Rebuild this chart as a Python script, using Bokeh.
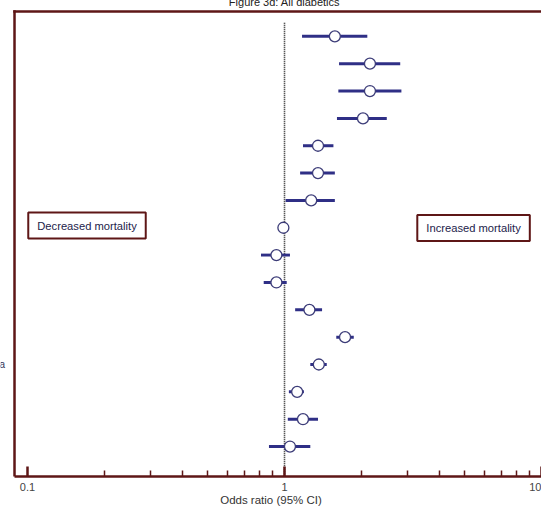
from bokeh.plotting import figure
from bokeh.models import Range1d, FixedTicker, Label, ColumnDataSource
from bokeh.embed import file_html
from bokeh.resources import INLINE

# ---------------- data ----------------
title_text = "Figure 3d: All diabetics"
x_axis_label = "Odds ratio (95% CI)"
left_label_fragment = "a"
decreased_text = "Decreased mortality"
increased_text = "Increased mortality"

rows = [1, 2, 3, 4, 5, 6, 7, 8, 9, 10, 11, 12, 13, 14, 15, 16]
odds_ratio = [1.57, 2.15, 2.15, 2.02, 1.35, 1.35, 1.27, 0.99, 0.93, 0.93, 1.25, 1.72, 1.36, 1.12, 1.18, 1.05]
ci_low = [1.17, 1.63, 1.62, 1.60, 1.18, 1.15, 1.01, 0.96, 0.81, 0.83, 1.10, 1.59, 1.26, 1.04, 1.03, 0.87]
ci_high = [2.10, 2.82, 2.85, 2.50, 1.55, 1.57, 1.57, 1.03, 1.05, 1.02, 1.40, 1.86, 1.46, 1.19, 1.35, 1.26]

major_ticks = [0.1, 1, 10]
minor_ticks = [0.2, 0.3, 0.4, 0.5, 0.6, 0.7, 0.8, 0.9, 2, 3, 4, 5, 6, 7, 8, 9]
tick_labels = {0.1: "0.1", 1: "1", 10: "10"}
null_value = 1.0

# ---------------- layout / style ----------------
FONT = "Liberation Sans"
MAROON = "#5e1616"
NAVY = "#2f2f86"

src = ColumnDataSource(dict(row=rows, odds=odds_ratio, lo=ci_low, hi=ci_high))

box_left = 0.089          # left edge of the drawn frame (OR units)
box_right = 10.0
view_left = 0.0785        # visible window starts a little left of the frame
y_bottom = len(rows) + 1.095
box_top = 0.09            # top edge of the drawn frame (row units)
view_top = -0.53

p = figure(width=541, height=514, x_axis_type="log", y_axis_location=None,
           x_range=Range1d(view_left, box_right), y_range=Range1d(y_bottom, view_top),
           output_backend="svg", toolbar_location=None,
           min_border_left=0, min_border_right=0, min_border_top=0, min_border_bottom=31)
p.styles = {"margin-top": "-6px"}
p.outline_line_color = None
p.xgrid.grid_line_color = None
p.ygrid.grid_line_color = None
p.background_fill_color = "white"
p.border_fill_color = "white"

# x axis
xa = p.xaxis[0]
xa.bounds = (box_left, box_right)
xa.ticker = FixedTicker(ticks=major_ticks, minor_ticks=minor_ticks)
xa.major_label_overrides = tick_labels
xa.axis_label = x_axis_label
xa.axis_label_text_font = FONT
xa.axis_label_text_font_size = "11.5px"
xa.axis_label_text_font_style = "normal"
xa.axis_label_text_color = "#333333"
xa.axis_label_standoff = 0
xa.major_label_text_font = FONT
xa.major_label_text_font_size = "11px"
xa.major_label_text_color = "#444444"
xa.major_label_standoff = 6
xa.axis_line_color = MAROON
xa.axis_line_width = 2.5
xa.major_tick_line_color = MAROON
xa.major_tick_line_width = 2.5
xa.major_tick_in = 10
xa.major_tick_out = 0
xa.minor_tick_line_color = MAROON
xa.minor_tick_line_width = 1.5
xa.minor_tick_in = 6
xa.minor_tick_out = 0

# left and top frame lines
p.segment(x0=[box_left, box_left], y0=[box_top, box_top], x1=[box_left, box_right * 2],
          y1=[y_bottom, box_top], line_color=MAROON, line_width=2.5, line_cap="square")

# reference line at OR = 1
p.segment(x0=[null_value], y0=[0.5], x1=[null_value], y1=[y_bottom],
          line_color="#222222", line_width=1.6, line_dash="1 1")

# confidence intervals and points
p.segment(x0="lo", y0="row", x1="hi", y1="row", source=src,
          line_color=NAVY, line_width=3)
p.scatter(x="odds", y="row", source=src, size=11, marker="circle",
          fill_color="white", line_color="#3c3c78", line_width=1.3)

# title (partly above the visible window in the reference)
p.add_layout(Label(x=null_value, y=box_top, y_offset=9.8, text=title_text, text_align="center",
                   text_baseline="alphabetic", text_font=FONT, text_font_size="11px",
                   text_color="#222222"))

# fragment of a row label at the left edge
p.add_layout(Label(x=0.0818, y=13, text=left_label_fragment, text_align="right",
                   text_baseline="middle", text_font=FONT, text_font_size="10px",
                   text_color="#333355"))

# annotation boxes
for txt, xv, yv in [(decreased_text, 0.1704, 7.92), (increased_text, 5.44, 8.01)]:
    p.add_layout(Label(x=xv, y=yv, text=txt, text_align="center", text_baseline="middle",
                       text_font=FONT, text_font_size="11.2px", text_color="#22224a",
                       background_fill_color="white", border_line_color=MAROON,
                       border_line_width=2, padding=(9, 7)))

open("out.html", "w").write(file_html(p, INLINE))
